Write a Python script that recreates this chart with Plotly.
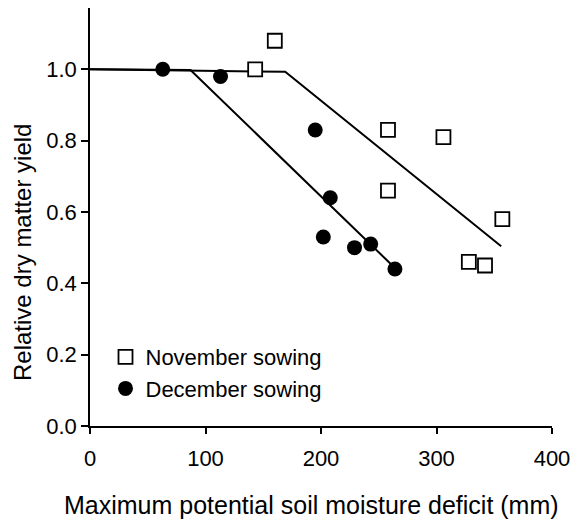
import plotly.graph_objects as go

# Data
nov_x = [143, 160, 258, 306, 258, 357, 328, 342]
nov_y = [1.00, 1.08, 0.83, 0.81, 0.66, 0.58, 0.46, 0.45]
dec_x = [63, 113, 195, 208, 202, 229, 243, 264]
dec_y = [1.00, 0.98, 0.83, 0.64, 0.53, 0.50, 0.51, 0.44]

# Broken-stick fitted lines
nov_fit_x = [0, 169, 356]
nov_fit_y = [1.0, 0.993, 0.504]
dec_fit_x = [0, 87, 264]
dec_fit_y = [1.0, 0.998, 0.443]

x_ticks = [0, 100, 200, 300, 400]
y_ticks = [0.0, 0.2, 0.4, 0.6, 0.8, 1.0]

FONT = "Arial, 'Liberation Sans', sans-serif"

# page body has an 8px margin, so the figure is 8px smaller each way
W, H = 576, 512
ML, MR, MT, MB = 82, 32, 0, 94
PH = H - MT - MB
PW = W - ML - MR

fig = go.Figure()
fig.add_trace(go.Scatter(x=nov_fit_x, y=nov_fit_y, mode="lines",
                         line=dict(color="black", width=2), showlegend=False))
fig.add_trace(go.Scatter(x=dec_fit_x, y=dec_fit_y, mode="lines",
                         line=dict(color="black", width=2), showlegend=False))
fig.add_trace(go.Scatter(x=nov_x, y=nov_y, mode="markers", name="November sowing",
                         marker=dict(symbol="square", size=14, color="white",
                                     line=dict(color="black", width=1.8))))
fig.add_trace(go.Scatter(x=dec_x, y=dec_y, mode="markers", name="December sowing",
                         marker=dict(symbol="circle", size=15, color="black",
                                     line=dict(color="black", width=0))))

fig.update_layout(
    width=W, height=H,
    margin=dict(l=ML, r=MR, t=MT, b=MB, pad=0),
    paper_bgcolor="white", plot_bgcolor="white",
    font=dict(family=FONT, color="black", size=22),
    legend=dict(x=(97.5 - ML) / PW, y=1 - 328 / PH, xanchor="left", yanchor="top",
                bgcolor="rgba(0,0,0,0)", font=dict(size=22, family=FONT),
                tracegroupgap=0),
    xaxis=dict(range=[0, 400], tickvals=x_ticks, showline=True, linecolor="black",
               linewidth=1.5, ticks="outside", ticklen=6, tickwidth=1.5,
               tickcolor="black", showgrid=False, zeroline=False,
               ticklabelstandoff=6,
               tickfont=dict(size=22, family=FONT)),
    yaxis=dict(range=[0, PH / 356.7], tickvals=y_ticks, tickformat=".1f", showline=True,
               linecolor="black", linewidth=1.5, ticks="outside", ticklen=7,
               tickwidth=1.5, tickcolor="black", showgrid=False, zeroline=False,
               tickfont=dict(size=22, family=FONT)),
    annotations=[
        dict(text="Maximum potential soil moisture deficit (mm)", xref="paper", yref="paper",
             x=(303 - ML) / PW, y=-(497 - PH) / PH, xanchor="center", yanchor="middle",
             showarrow=False, font=dict(size=25, family=FONT)),
        dict(text="Relative dry matter yield", xref="paper", yref="paper",
             x=-(ML - 14) / PW, y=(PH - 245) / PH, xanchor="center", yanchor="middle",
             textangle=-90, showarrow=False, font=dict(size=24, family=FONT)),
    ],
)

fig.write_html("out.html")
